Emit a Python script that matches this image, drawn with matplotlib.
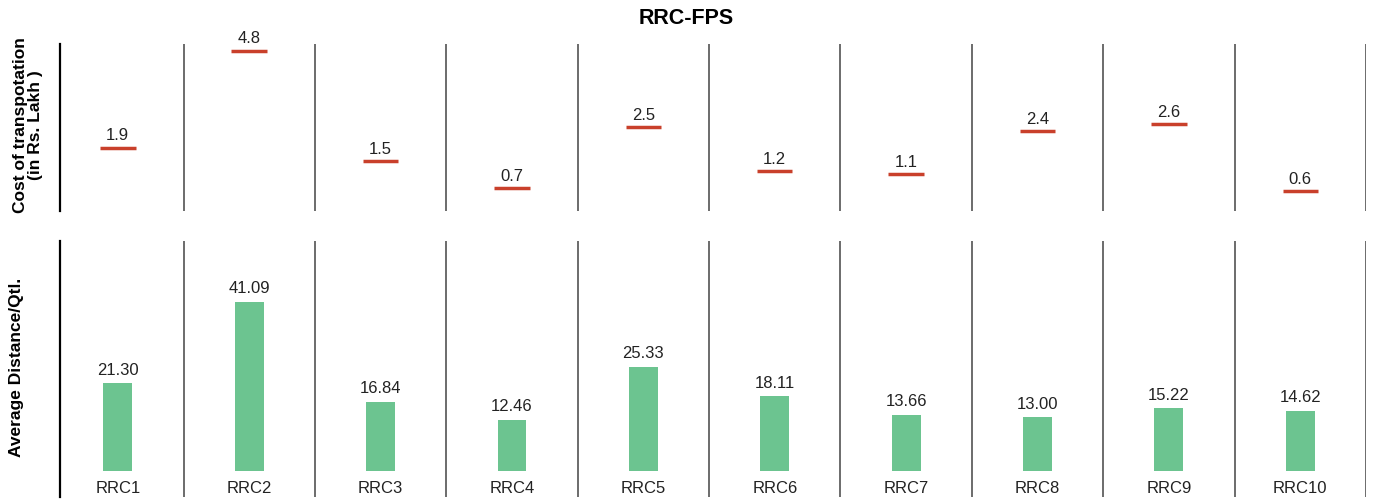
import matplotlib
matplotlib.use("Agg")
import matplotlib.pyplot as plt
import numpy as np

plt.rcParams['font.family'] = ['Liberation Sans', 'DejaVu Sans']

rrcs = ['RRC1', 'RRC2', 'RRC3', 'RRC4', 'RRC5', 'RRC6', 'RRC7', 'RRC8', 'RRC9', 'RRC10']
cost = [1.9, 4.8, 1.5, 0.7, 2.5, 1.2, 1.1, 2.4, 2.6, 0.6]
avg_dist = [21.30, 41.09, 16.84, 12.46, 25.33, 18.11, 13.66, 13.00, 15.22, 14.62]

fig = plt.figure(figsize=(13.73, 4.99), dpi=100)
ax_top = fig.add_axes([0.0437, 0.577, 0.9512, 0.335])
ax_bot = fig.add_axes([0.0437, 0.004, 0.9512, 0.513])

x = np.arange(len(rrcs))

# top panel: cost markers
ax_top.hlines(cost, x - 0.135, x + 0.135, color='#c9402b', lw=2.5)
for xi, v in zip(x, cost):
    ax_top.annotate('{:.1f}'.format(v), (xi, v), xytext=(0, 3), textcoords='offset points',
                    ha='center', va='bottom', fontsize=12, color='#222222')
ax_top.set_ylim(0, 5.0)

# bottom panel: distance bars
ax_bot.bar(x, avg_dist, width=0.22, color='#6cc490')
for xi, v in zip(x, avg_dist):
    ax_bot.annotate('{:.2f}'.format(v), (xi, v), xytext=(0, 4), textcoords='offset points',
                    ha='center', va='bottom', fontsize=12, color='#222222')
    ax_bot.text(xi, -2.5, rrcs[xi], ha='center', va='top', fontsize=12, color='#222222')
ax_bot.set_ylim(-6.3, 55.8)

for ax in (ax_top, ax_bot):
    ax.set_xlim(-0.44, 9.5)
    for b in np.arange(0.5, 10, 1.0):
        ax.axvline(b, color='#444444', lw=1.1)
    for s in ['top', 'right', 'bottom']:
        ax.spines[s].set_visible(False)
    ax.spines['left'].set_linewidth(1.6)
    ax.spines['left'].set_color('black')
    ax.set_xticks([])
    ax.set_yticks([])

fig.text(28 / 1373, 1 - 125 / 499, 'Cost of transpotation\n(in Rs. Lakh )', rotation=90,
         ha='center', va='center', multialignment='center', fontsize=12.5, fontweight='bold',
         linespacing=1.0)
fig.text(17 / 1373, 1 - 367 / 499, 'Average Distance/Qtl.', rotation=90,
         ha='center', va='center', fontsize=12.5, fontweight='bold')

fig.suptitle('RRC-FPS', fontsize=15.5, fontweight='bold', y=1 - 18 / 499, va='center')

fig.savefig('out.png', dpi=100)
